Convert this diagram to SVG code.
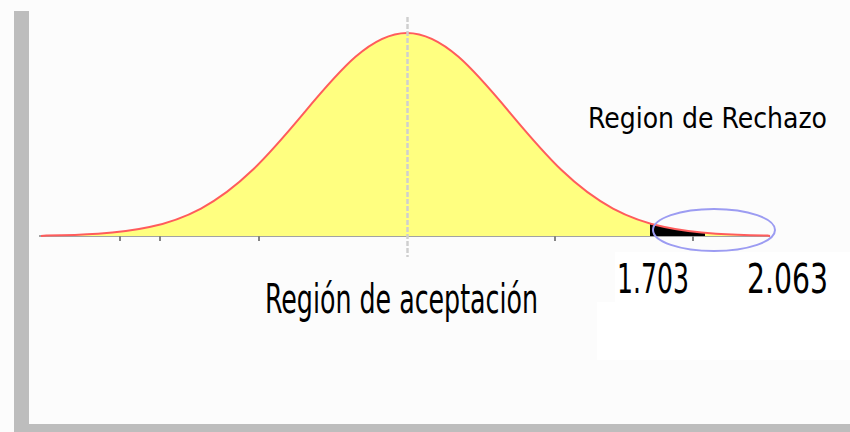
<svg xmlns="http://www.w3.org/2000/svg" width="850" height="432" viewBox="0 0 850 432">
  <defs>
    <style>
      .lbl { font-family: "DejaVu Sans Condensed", "DejaVu Sans", "Liberation Sans", sans-serif; fill: #000; font-size: 28px; }
      .tick { stroke: #858585; stroke-width: 2; }
    </style>
  </defs>
  <rect x="0" y="0" width="850" height="432" fill="#fcfcfc"/>
  <rect x="615" y="252" width="235" height="52" fill="#ffffff"/>
  <rect x="597" y="302" width="253" height="58" fill="#ffffff"/>
  <g id="frame" fill="#bdbdbd">
    <rect x="14" y="11" width="15" height="421"/>
    <rect x="14" y="424" width="836" height="8"/>
  </g>
  <g id="axis">
    <line x1="39" y1="236" x2="770" y2="236" stroke="#a3a3a3" stroke-width="2"/>
    <line class="tick" x1="120" y1="231" x2="120" y2="241"/>
    <line class="tick" x1="160" y1="231" x2="160" y2="241"/>
    <line class="tick" x1="259" y1="231" x2="259" y2="241"/>
    <line class="tick" x1="555" y1="231" x2="555" y2="241"/>
    <line class="tick" x1="693" y1="231" x2="693" y2="241"/>
  </g>
  <g id="curve" transform="translate(1,0)">
    <path id="area" fill="#ffff80" stroke="none" d="M 40 236 L 45.5 235.56 C 62.67 235.30 79.83 234.87 97 233.74 C 114.17 232.61 131.33 230.80 148.5 227.08 C 165.67 223.36 182.83 217.69 200 208.53 C 217.17 199.37 234.33 186.57 251.5 170.09 C 268.67 153.61 285.83 133.40 303 112.88 C 320.17 92.36 337.33 71.78 354.5 56.85 C 371.67 41.92 388.83 33 406 33 C 423.17 33 440.33 41.92 457.5 56.85 C 474.67 71.78 491.83 92.36 509 112.88 C 526.17 133.40 543.33 153.61 560.5 170.09 C 577.67 186.57 594.83 199.37 612 208.53 C 629.17 217.69 646.33 223.36 663.5 227.08 C 680.67 230.80 697.83 232.61 715 233.74 C 732.17 234.87 749.33 235.30 766.5 235.56 L 769 236 Z"/>
    <path id="rechazo" fill="#000" d="M 649 236 L 649 223.5 L 660 226.3 L 670 228.4 L 680 230.1 L 690 231.5 L 704 232.9 L 704 236 Z"/>
    <path id="line" fill="none" stroke="#ff5c5c" stroke-width="2" d="M 40 236 L 45.5 235.56 C 62.67 235.30 79.83 234.87 97 233.74 C 114.17 232.61 131.33 230.80 148.5 227.08 C 165.67 223.36 182.83 217.69 200 208.53 C 217.17 199.37 234.33 186.57 251.5 170.09 C 268.67 153.61 285.83 133.40 303 112.88 C 320.17 92.36 337.33 71.78 354.5 56.85 C 371.67 41.92 388.83 33 406 33 C 423.17 33 440.33 41.92 457.5 56.85 C 474.67 71.78 491.83 92.36 509 112.88 C 526.17 133.40 543.33 153.61 560.5 170.09 C 577.67 186.57 594.83 199.37 612 208.53 C 629.17 217.69 646.33 223.36 663.5 227.08 C 680.67 230.80 697.83 232.61 715 233.74 C 732.17 234.87 749.33 235.30 766.5 235.56 L 769 236"/>
  </g>
  <line id="center" x1="407.5" y1="17" x2="407.5" y2="257" stroke="#cfcfcf" stroke-width="2.5" stroke-dasharray="5,2"/>
  <ellipse id="zona" cx="714" cy="230" rx="61" ry="21" fill="none" stroke="#9c9cf2" stroke-width="2"/>
  <g id="labels">
    <text class="lbl" x="588" y="128" textLength="239" lengthAdjust="spacingAndGlyphs">Region de Rechazo</text>
    <text class="lbl" transform="translate(265,313) scale(1,1.45)" x="0" y="0" textLength="273" lengthAdjust="spacingAndGlyphs">Región de aceptación</text>
    <text class="lbl" transform="translate(617,293) scale(1,1.45)" x="0" y="0" textLength="72" lengthAdjust="spacingAndGlyphs">1.703</text>
    <text class="lbl" transform="translate(747,293) scale(1,1.45)" x="0" y="0" textLength="81" lengthAdjust="spacingAndGlyphs">2.063</text>
  </g>
</svg>
